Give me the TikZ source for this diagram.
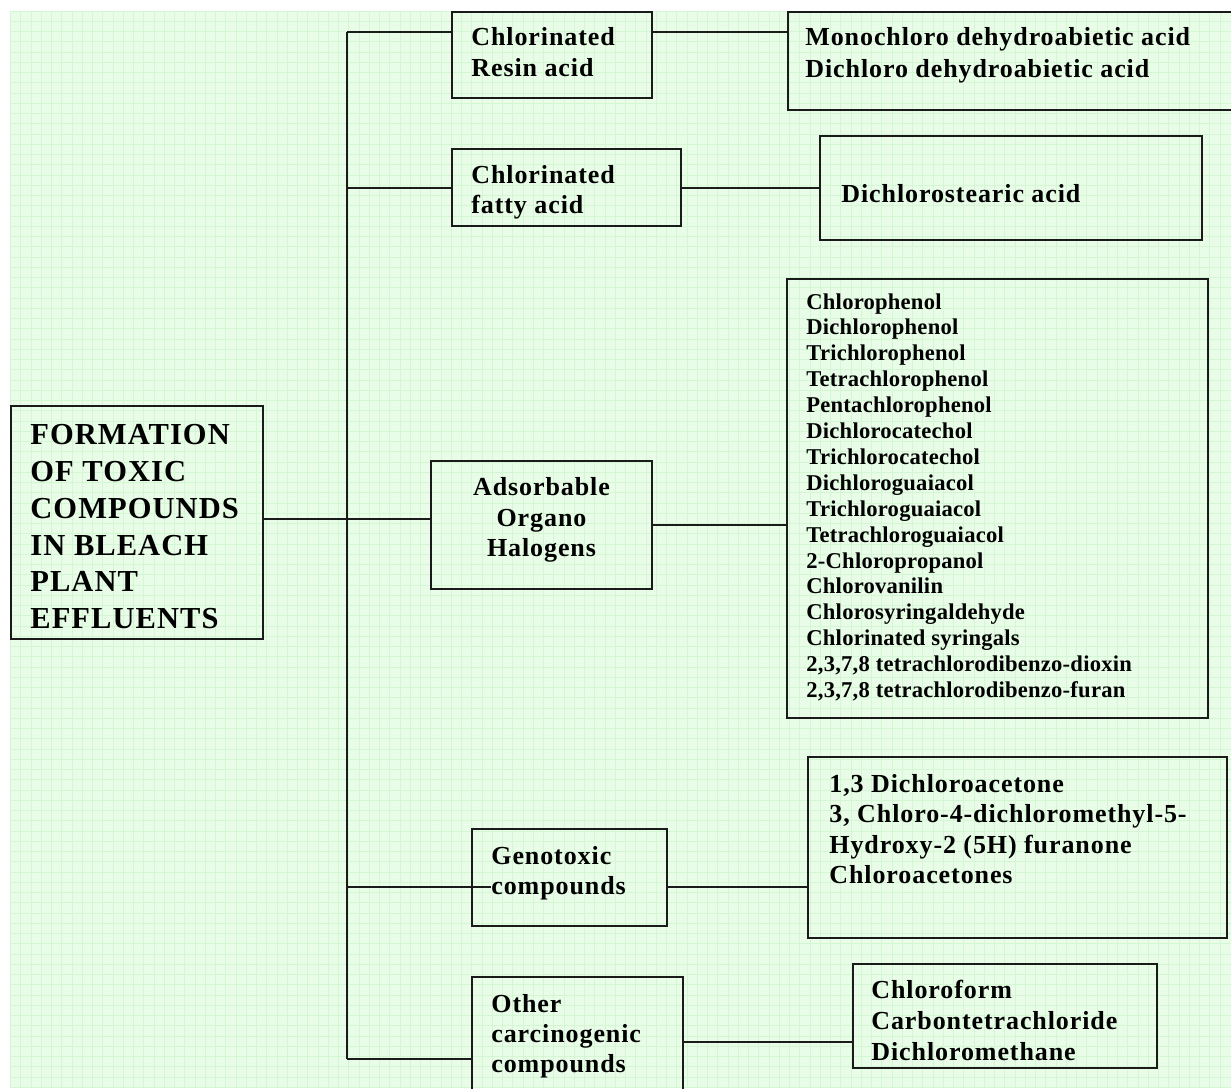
\documentclass[tikz,border=0pt]{standalone}
\usepackage{fontspec}
\newfontfamily\boxfont{Liberation Serif}[LetterSpace=3.5]
\newfontfamily\listfont{Liberation Serif}[LetterSpace=1]
\usetikzlibrary{positioning,calc,fit}
\definecolor{sheet}{HTML}{E8FCE8}
\definecolor{gridln}{HTML}{D2F7D2}
\definecolor{ink}{HTML}{1A1A1A}

\begin{document}
\begin{tikzpicture}[x=0.5pt, y=-0.5pt,
	box/.style={draw=ink, line width=1pt, inner sep=0pt},
	txt/.style={anchor=north west, inner sep=0pt, align=left, font=\boxfont\bfseries\fontsize{13}{#1}\selectfont},
	txt/.default=15.5,
	link/.style={draw=ink, line width=1pt}]
	\useasboundingbox (0,0) rectangle (1231,1088);
	% squared paper
	\fill[white] (0,0) rectangle (1231,1088);
	\fill[sheet] (10,11) rectangle (1231,1088);
	\foreach \k in {0,...,118} \draw[gridln, line width=0.4pt] ({10.5+10.25*\k},11) -- ({10.5+10.25*\k},1088);
	\foreach \k in {0,...,105} \draw[gridln, line width=0.4pt] (10,{11+10.25*\k}) -- (1231,{11+10.25*\k});

	% boxes
	\node (main)     [box, fit={(11,406) (263,639)}] {};
	\node (resin)    [box, fit={(452,12) (652,98)}] {};
	\node (mono)     [box, fit={(788,12) (1240,110)}] {};
	\node (fatty)    [box, fit={(452,149) (681,226)}] {};
	\node (stearic)  [box, fit={(820,136) (1202,240)}] {};
	\node (aox)      [box, fit={(431,461) (652,589)}] {};
	\node (aoxlist)  [box, fit={(787,279) (1208,718)}] {};
	\node (geno)     [box, fit={(472,829) (667,926)}] {};
	\node (genolist) [box, fit={(808,757) (1227,938)}] {};
	\node (other)    [box, fit={(472,977) (683,1095)}] {};
	\node (chloro)   [box, fit={(853,964) (1157,1068)}] {};

	% texts
	\node (mainT) [txt, font=\boxfont\bfseries\fontsize{15.25}{18.4}\selectfont] at (30,424) {FORMATION\\OF TOXIC\\COMPOUNDS\\IN BLEACH\\PLANT\\EFFLUENTS};
	\node (resinT) [txt=15.5] at (471,27.3) {Chlorinated\\Resin acid};
	\node (monoT) [txt=16] at (805,27.3) {Monochloro dehydroabietic acid\\Dichloro dehydroabietic acid};
	\node (fattyT) [txt=15] at (471,165) {Chlorinated\\fatty acid};
	\node (stearicT) [txt] at (841,184) {Dichlorostearic acid};
	\node (aoxT) [txt=15.35, anchor=north, align=center] at (541.5,477) {Adsorbable\\Organo\\Halogens};
	\node (aoxlistT) [txt, font=\listfont\bfseries\fontsize{11.3}{12.95}\selectfont] at (806,293) {Chlorophenol\\Dichlorophenol\\Trichlorophenol\\Tetrachlorophenol\\Pentachlorophenol\\Dichlorocatechol\\Trichlorocatechol\\Dichloroguaiacol\\Trichloroguaiacol\\Tetrachloroguaiacol\\2-Chloropropanol\\Chlorovanilin\\Chlorosyringaldehyde\\Chlorinated syringals\\2,3,7,8 tetrachlorodibenzo-dioxin\\2,3,7,8 tetrachlorodibenzo-furan};
	\node (genoT) [txt=15] at (491,846) {Genotoxic\\compounds};
	\node (genolistT) [txt=15.25] at (829,774) {1,3 Dichloroacetone\\3, Chloro-4-dichloromethyl-5-\\Hydroxy-2 (5H) furanone\\Chloroacetones};
	\node (chloroT) [txt] at (871,980) {Chloroform\\Carbontetrachloride\\Dichloromethane};
	\node (otherT) [txt=15] at (491,994) {Other\\carcinogenic\\compounds};

	% connectors
	\coordinate (trunktop) at (347,32);
	\coordinate (trunkbot) at (347,1059);
	\coordinate (hub) at (347,519);
	\coordinate (genojoin) at (347,887);
	\coordinate (otherjoin) at (700,1042);
	\draw[link] (trunktop) -- (trunkbot);
	\draw[link] (trunktop) -- (trunktop -| resin.west);
	\draw[link] (resin.east |- trunktop) -- (mono.west |- trunktop);
	\draw[link] (trunktop |- fatty.west) -- (fatty.west);
	\draw[link] (fatty.east) -- (fatty.east -| stearic.west);
	\draw[link] (main.east |- hub) -- (aox.west |- hub);
	\draw[link] (aox.east) -- (aox.east -| aoxlist.west);
	\draw[link] (genojoin) -- ($(geno.west |- genojoin)+(20,0)$);
	\draw[link] (geno.east |- genojoin) -- (genolist.west |- genojoin);
	\draw[link] (trunkbot) -- (trunkbot -| other.west);
	\draw[link] (other.east |- otherjoin) -- (chloro.west |- otherjoin);
\end{tikzpicture}
\end{document}
